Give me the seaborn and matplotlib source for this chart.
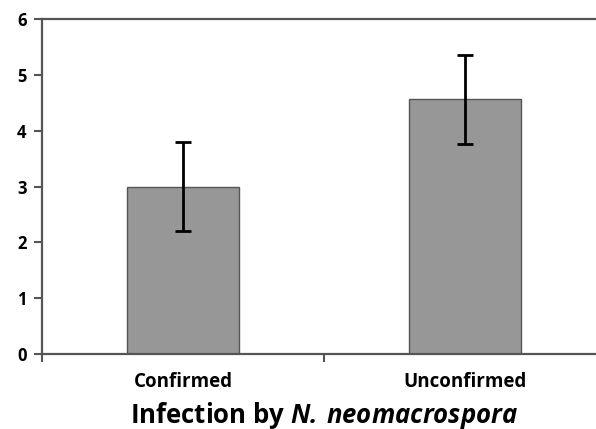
import matplotlib
matplotlib.use("Agg")
import matplotlib.pyplot as plt
import pandas as pd
import seaborn as sns

# values
categories = ["Confirmed", "Unconfirmed"]
means = [3.0, 4.56]
errors = [0.79, 0.79]
y_ticks = [0, 1, 2, 3, 4, 5, 6]

sns.set_style("ticks")
plt.rcParams["font.family"] = ["Open Sans", "DejaVu Sans"]
plt.rcParams["text.color"] = "black"
plt.rcParams["xtick.labelcolor"] = "black"
plt.rcParams["ytick.labelcolor"] = "black"
plt.rcParams["axes.labelcolor"] = "black"
plt.rcParams["mathtext.fontset"] = "custom"
plt.rcParams["mathtext.bfit"] = "Open Sans:italic:bold"
plt.rcParams["mathtext.bf"] = "Open Sans:bold"
plt.rcParams["mathtext.rm"] = "Open Sans"

df = pd.DataFrame({"group": categories, "value": means})

fig = plt.figure(figsize=(5.96, 4.29), dpi=100)
# axes runs a little past the right edge, like the cropped original
ax = fig.add_axes([42 / 596, 75 / 429, 564 / 596, 335 / 429])

sns.barplot(data=df, x="group", y="value", color="#979797", saturation=1,
            width=0.4, edgecolor="#555555", linewidth=1.0, ax=ax)
ax.errorbar(range(len(categories)), means, yerr=errors, fmt="none",
            ecolor="black", elinewidth=2.0, capsize=6, capthick=2.0)

ax.set_ylim(0, 6)
ax.set_xlim(-0.5, 1.5)
ax.set_yticks(y_ticks)
ax.set_yticklabels([str(t) for t in y_ticks], fontsize=12, fontweight="bold")

# boundary ticks without labels, category names on minor ticks
ax.set_xticks([-0.5, 0.5, 1.5])
ax.set_xticklabels([])
ax.set_xticks([0, 1], minor=True)
ax.set_xticklabels(categories, minor=True, fontsize=13.5, fontweight="bold")
ax.tick_params(axis="x", which="minor", length=0, pad=13)
ax.tick_params(axis="both", which="major", direction="out", length=6,
               width=1.5, color="#555555")
ax.tick_params(axis="y", pad=5)

for side in ["left", "bottom", "top", "right"]:
    ax.spines[side].set_color("#555555")
    ax.spines[side].set_linewidth(1.6)

ax.set_ylabel("")
ax.set_xlabel(r"Infection by $\mathbfit{N.\,neomacrospora}$",
              fontsize=18.5, fontweight="bold")
ax.xaxis.label.set_va("baseline")
ax.xaxis.set_label_coords(0.5, -69 / 335)

fig.savefig("out.png", dpi=100)
